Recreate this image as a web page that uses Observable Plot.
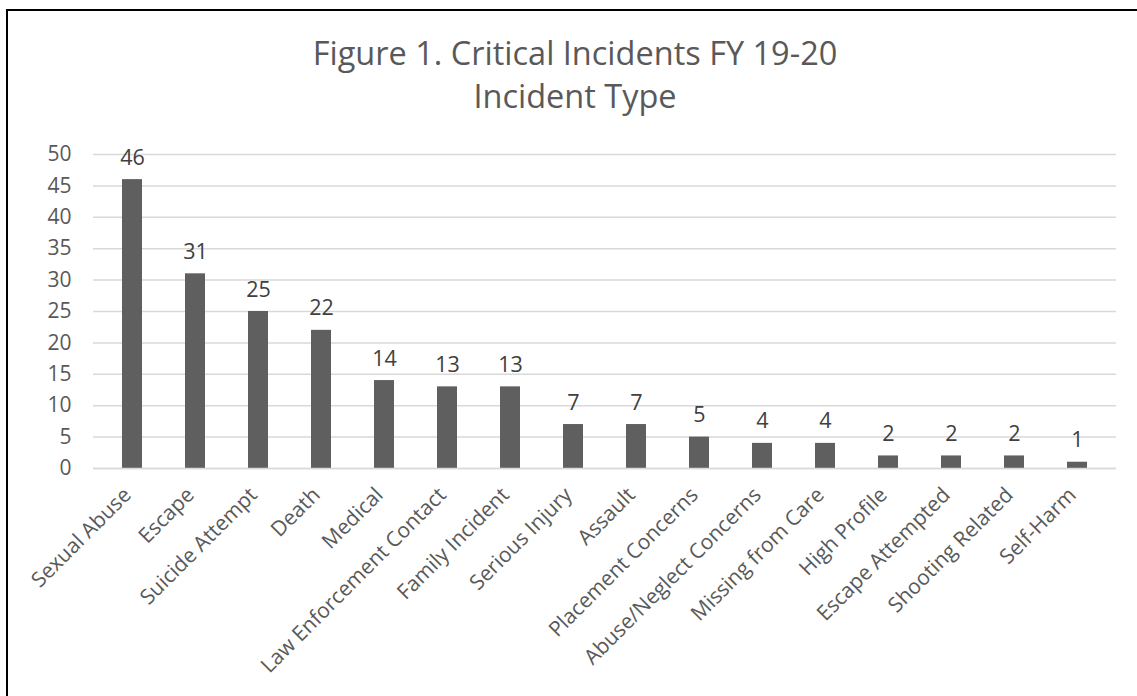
<!DOCTYPE html>
<html>
<head>
<meta charset="utf-8">
<script src="https://cdn.jsdelivr.net/npm/d3@7"></script>
<script src="https://cdn.jsdelivr.net/npm/@observablehq/plot@0.6"></script>
<style>
  html, body { margin: 0; padding: 0; background: #fff; }
  #wrap { position: relative; width: 1137px; height: 696px; overflow: hidden; font-family: "Open Sans", sans-serif; }
  #frame { position: absolute; left: 6px; top: 9px; width: 1200px; height: 800px; border-top: 2px solid #000; border-left: 2px solid #000; }
  .title { position: absolute; left: 0; width: 1150px; text-align: center; color: #595959; font-size: 32.5px; line-height: 1; white-space: nowrap; }
  #t1 { top: 37px; }
  #t2 { top: 80px; }
  #chart { position: absolute; left: 0; top: 130px; }
</style>
</head>
<body>
<div id="wrap">
  <div id="frame"></div>
  <div class="title" id="t1">Figure 1. Critical Incidents FY 19-20</div>
  <div class="title" id="t2">Incident Type</div>
  <div id="chart"></div>
</div>
<script>
const categories = ["Sexual Abuse", "Escape", "Suicide Attempt", "Death", "Medical",
  "Law Enforcement Contact", "Family Incident", "Serious Injury", "Assault",
  "Placement Concerns", "Abuse/Neglect Concerns", "Missing from Care",
  "High Profile", "Escape Attempted", "Shooting Related", "Self-Harm"];
const counts = [46, 31, 25, 22, 14, 13, 13, 7, 7, 5, 4, 4, 2, 2, 2, 1];
const yTicks = [0, 5, 10, 15, 20, 25, 30, 35, 40, 45, 50];

const data = categories.map((c, i) => ({type: c, count: counts[i]}));

const plot = Plot.plot({
  width: 1137,
  height: 566,
  marginTop: 24,
  marginBottom: 228,
  marginLeft: 93,
  marginRight: 21,
  style: {fontFamily: "'Open Sans', sans-serif", fontSize: "21px", color: "#595959", background: "transparent"},
  x: {domain: categories, paddingInner: 0.69, paddingOuter: 0.345, label: null},
  y: {domain: [0, 50], label: null},
  marks: [
    Plot.gridY(yTicks, {stroke: "#d9d9d9", strokeOpacity: 1, strokeWidth: 1.5}),
    Plot.barY(data, {x: "type", y: "count", fill: "#5f5f5f"}),
    Plot.ruleY([0], {stroke: "#d9d9d9", strokeWidth: 1.5}),
    Plot.text(data, {x: "type", y: "count", text: d => String(d.count), lineAnchor: "bottom", dy: -15, fill: "#404040", fontSize: 21.5}),
    Plot.axisY(yTicks, {tickSize: 0, tickPadding: 22, fontSize: 21, fill: "#595959", label: null}),
    Plot.axisX({tickSize: 0, tickRotate: -45, tickPadding: 23, fontSize: 21, fill: "#595959", label: null, dx: -5})
  ]
});
document.getElementById("chart").appendChild(plot);
</script>
</body>
</html>
